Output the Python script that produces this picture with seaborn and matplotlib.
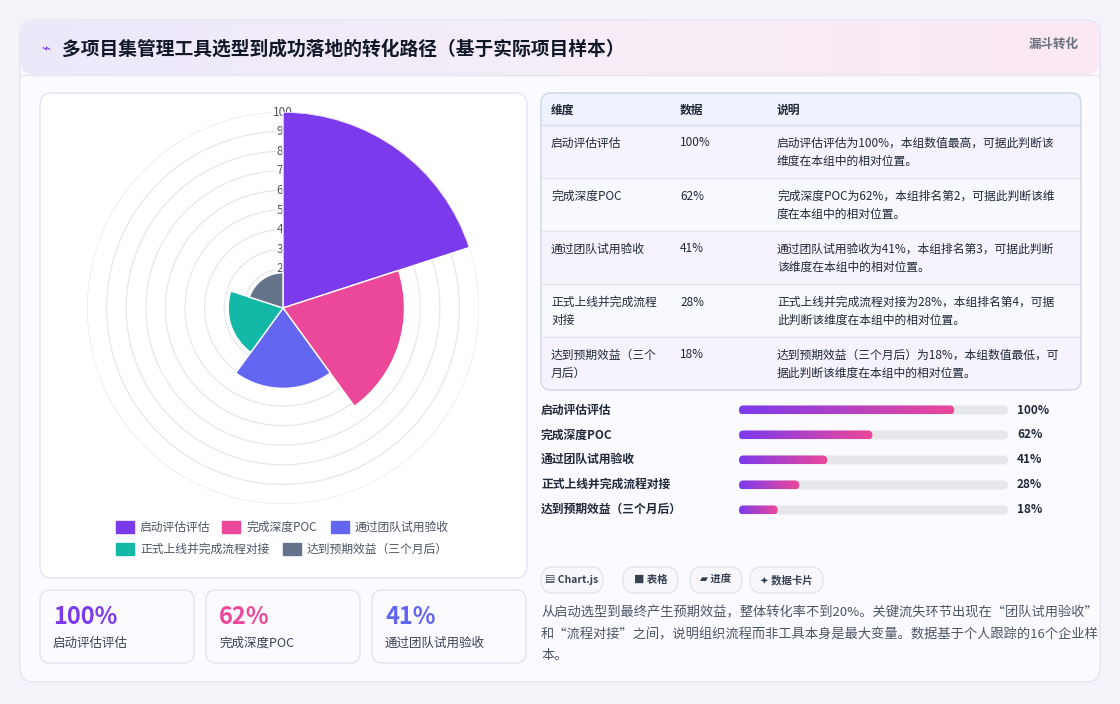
import numpy as np
import pandas as pd
import matplotlib
matplotlib.use("Agg")
import matplotlib.pyplot as plt
import seaborn as sns
from matplotlib.patches import FancyBboxPatch, Rectangle
from matplotlib.colors import LinearSegmentedColormap

categories = ["启动评估评估", "完成深度POC", "通过团队试用验收", "正式上线并完成流程对接", "达到预期效益（三个月后）"]
values = [100, 62, 41, 28, 18]
colors = ["#7c3aed", "#ec4899", "#6366f1", "#14b8a6", "#64748b"]
radial_ticks = [20, 30, 40, 50, 60, 70, 80, 90, 100]
table_notes = [
    ["启动评估评估为100%，本组数值最高，可据此判断该", "维度在本组中的相对位置。"],
    ["完成深度POC为62%，本组排名第2，可据此判断该维", "度在本组中的相对位置。"],
    ["通过团队试用验收为41%，本组排名第3，可据此判断", "该维度在本组中的相对位置。"],
    ["正式上线并完成流程对接为28%，本组排名第4，可据", "此判断该维度在本组中的相对位置。"],
    ["达到预期效益（三个月后）为18%，本组数值最低，可", "据此判断该维度在本组中的相对位置。"],
]
table_names = [["启动评估评估"], ["完成深度POC"], ["通过团队试用验收"], ["正式上线并完成流程", "对接"], ["达到预期效益（三个", "月后）"]]
kpi_idx = [0, 1, 2]
chips = ["▤ Chart.js", "■ 表格", "▰ 进度", "✦ 数据卡片"]
footnote = ["从启动选型到最终产生预期效益，整体转化率不到20%。关键流失环节出现在“团队试用验收”",
            "和“流程对接”之间，说明组织流程而非工具本身是最大变量。数据基于个人跟踪的16个企业样",
            "本。"]

sns.set_theme(style="white")
plt.rcParams['font.family'] = ['Noto Sans CJK SC', 'DejaVu Sans']

W, H = 1120, 704
fig = plt.figure(figsize=(W / 100, H / 100), dpi=100)
fig.patch.set_facecolor("#f3f2f8")

def fr(x0, y0, x1, y1):
    return [x0 / W, 1 - y1 / H, (x1 - x0) / W, (y1 - y0) / H]

bg = fig.add_axes([0, 0, 1, 1])
bg.set_xlim(0, W); bg.set_ylim(H, 0); bg.axis("off")
bg.add_patch(Rectangle((0, 0), W, H, color="#f4f3f9", zorder=0))

def rbox(x0, y0, x1, y1, fc, ec="#e4e4f0", r=10, lw=1, z=1):
    bg.add_patch(FancyBboxPatch((x0 + r, y0 + r), x1 - x0 - 2 * r, y1 - y0 - 2 * r,
                                boxstyle=f"round,pad={r}", fc=fc, ec=ec, lw=lw, zorder=z))

rbox(20, 20, 1100, 682, "#fbfaff", ec="#e6e3f3", r=14)
hdr = np.linspace(0, 1, 256).reshape(1, -1)
hcmap = LinearSegmentedColormap.from_list("h", ["#ece8fb", "#f6eef8", "#fbe8f2"])
im = bg.imshow(hdr, extent=[21, 1099, 75, 21], cmap=hcmap, aspect="auto", zorder=1.5)
clipp = FancyBboxPatch((35, 35), 1050, 26, boxstyle="round,pad=14", transform=bg.transData, fc="none", ec="none")
bg.add_patch(clipp)
im.set_clip_path(clipp)
bg.plot([21, 1099], [75, 75], color="#e8e4f4", lw=1, zorder=2)
bg.text(41, 49, "⌁", fontsize=11, color="#7c3aed", va="center", zorder=3)
bg.text(62, 49, "多项目集管理工具选型到成功落地的转化路径（基于实际项目样本）", fontsize=13.5,
        fontweight="bold", color="#111827", va="center", zorder=3)
bg.text(1079, 44, "漏斗转化", fontsize=9, fontweight="bold", color="#6b7280", ha="right", va="center", zorder=3)

rbox(40, 93, 527, 578, "white", r=12)
for i, k in enumerate(kpi_idx):
    x0 = 40 + i * 166
    rbox(x0, 590, x0 + 154, 663, "#fbfaff", r=10)
    bg.text(x0 + 13, 617, f"{values[k]}%", fontsize=17, fontweight="bold", color=colors[k], va="center", zorder=3)
    bg.text(x0 + 13, 643, categories[k], fontsize=9, color="#374151", va="center", zorder=3)

pax = fig.add_axes(fr(87, 112, 479, 504), projection="polar")
pax.set_theta_zero_location("N"); pax.set_theta_direction(-1)
n = len(values)
width = 2 * np.pi / n
theta = np.arange(n) * width + width / 2
pax.bar(theta, values, width=width, color=colors, edgecolor="white", linewidth=1, zorder=3)
pax.set_ylim(0, 100)
pax.set_xticks([]); pax.set_yticks([])
pax.grid(False)
pax.spines["polar"].set_visible(False)
pax.set_facecolor("none")
tt = np.linspace(0, 2 * np.pi, 360)
for r in range(10, 101, 10):
    pax.plot(tt, np.full_like(tt, r), color="#e5e7eb", lw=0.9, zorder=1)
for r in radial_ticks:
    pax.text(0, r, str(r), ha="center", va="center", fontsize=8.5, color="#555", zorder=2,
             bbox=dict(fc="white", ec="none", pad=0.5))

leg_pos = [(116, 527), (222, 527), (331, 527), (116, 549), (283, 549)]
for (x, y), c, lab in zip(leg_pos, colors, categories):
    bg.add_patch(Rectangle((x, y - 6), 18, 12, color=c, zorder=3))
    bg.text(x + 24, y, lab, fontsize=8.5, color="#4b5563", va="center", zorder=3)

# table
rbox(541, 93, 1081, 390, "#f8f9fd", ec="none", r=10)
bg.add_patch(FancyBboxPatch((551, 103), 520, 12, boxstyle="round,pad=10", fc="#eef3fe", ec="none", zorder=1.5))
bg.add_patch(Rectangle((542, 115), 538, 10, color="#eef3fe", zorder=1.5))
bg.plot([542, 1080], [125, 125], color="#d9deea", lw=1, zorder=2)
for j, h in zip([551, 680, 777], ["维度", "数据", "说明"]):
    bg.text(j, 110, h, fontsize=8.5, fontweight="bold", color="#1f2937", va="center", zorder=3)
for i in range(5):
    y0 = 125 + i * 53
    if i % 2 == 0:
        if i == 4:
            bg.add_patch(FancyBboxPatch((551, y0 + 10), 520, 33, boxstyle="round,pad=10", fc="#f6f3fd", ec="none", zorder=1.4))
            bg.add_patch(Rectangle((542, y0), 538, 20, color="#f6f3fd", zorder=1.4))
        else:
            bg.add_patch(Rectangle((542, y0), 538, 53, color="#f6f3fd", zorder=1.4))
    if i > 0:
        bg.plot([542, 1080], [y0, y0], color="#e2e6ef", lw=1, zorder=2)
    for k, line in enumerate(table_names[i]):
        bg.text(551, y0 + 18 + k * 18, line, fontsize=8.5, color="#1f2937", va="center", zorder=3)
    bg.text(680, y0 + 18, f"{values[i]}%", fontsize=8.5, color="#1f2937", va="center", zorder=3)
    for k, line in enumerate(table_notes[i]):
        bg.text(777, y0 + 18 + k * 18, line, fontsize=8.5, color="#1f2937", va="center", zorder=3)
rbox(541, 93, 1081, 390, "none", ec="#cfd6e6", r=10, z=2.5)

# progress bars with seaborn
bax = fig.add_axes(fr(739, 397.5, 1008, 522.5))
df = pd.DataFrame({"cat": categories, "fill": [v * 0.8 for v in values], "track": [100] * n})
sns.barplot(data=df, x="track", y="cat", ax=bax, color="#e5e7eb", width=0.36, orient="h")
sns.barplot(data=df, x="fill", y="cat", ax=bax, color="#a855f7", width=0.36, orient="h")
bax.set_xlim(0, 100); bax.set_ylim(n - 0.5, -0.5)
bax.axis("off")
ypp = 1 / 25.0; xpp = 100 / 269.0
asp = ypp / xpp
gcmap = LinearSegmentedColormap.from_list("g", ["#7c3aed", "#ec4899"])
patches = list(bax.patches)
for p in patches:
    x, y, w, h = p.get_x(), p.get_y(), p.get_width(), p.get_height()
    is_track = abs(w - 100) < 1e-6
    p.set_visible(False)
    rad = h / 2 / asp
    rp = FancyBboxPatch((x, y), w, h, boxstyle=f"round,pad=0,rounding_size={rad}",
                        mutation_aspect=asp, fc="#e5e7eb" if is_track else "none", ec="none", zorder=2)
    bax.add_patch(rp)
    if not is_track:
        g = bax.imshow(np.linspace(0, 1, 128).reshape(1, -1), extent=[x, x + w, y + h, y], cmap=gcmap,
                       aspect="auto", zorder=3)
        g.set_clip_path(rp)
bax.set_xlim(0, 100); bax.set_ylim(n - 0.5, -0.5)
for i in range(n):
    yy = 410 + i * 24.8
    bg.text(541, yy, categories[i], fontsize=8.5, fontweight="bold", color="#1f2937", va="center", zorder=3)
    bg.text(1017, yy, f"{values[i]}%", fontsize=8.5, fontweight="bold", color="#1f2937", va="center", zorder=3)

chip_x = [(541, 603), (623, 678), (690, 742), (750, 823)]
for (x0, x1), t in zip(chip_x, chips):
    rbox(x0, 567, x1, 593, "#f8f8fc", ec="#e2e4ee", r=12)
    bg.text((x0 + x1) / 2, 580, t, fontsize=7.5, fontweight="bold", color="#374151", ha="center", va="center",
            zorder=3, family=['Noto Sans CJK SC', 'DejaVu Sans'])

for k, line in enumerate(footnote):
    bg.text(541, 613 + k * 21.5, line, fontsize=9.5, color="#4b5563", va="center", zorder=3)

fig.savefig("out.png", dpi=100, facecolor=fig.get_facecolor())
